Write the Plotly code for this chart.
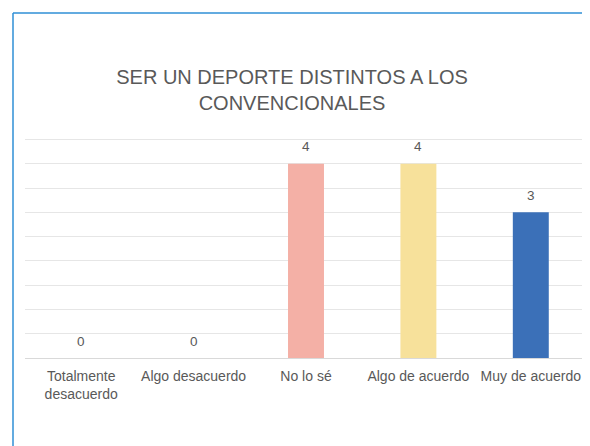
import plotly.graph_objects as go

categories = ["Totalmente<br>desacuerdo", "Algo desacuerdo", "No lo sé", "Algo de acuerdo", "Muy de acuerdo"]
values = [0, 0, 4, 4, 3]
colors = ["#F4B0A6", "#F4B0A6", "#F4B0A6", "#F7E19B", "#3B70B8"]
title_text = "SER UN DEPORTE DISTINTOS A LOS<br>CONVENCIONALES"

FONT = "Liberation Sans, Arial, sans-serif"
GREY = "#595959"

# page body has an 8px margin, so the figure is drawn 8px smaller and shifted
W, H = 582, 438
L, T, B, R = 17, 129, 88, 3
PW = W - L - R
PH = H - T - B

fig = go.Figure()
fig.add_trace(go.Bar(
    x=categories, y=values, marker=dict(color=colors, line=dict(width=0)),
    cliponaxis=False, hoverinfo="x+y",
))

annotations = [dict(x=c, y=v, xref="x", yref="y", text=str(v), showarrow=False,
                    yanchor="middle", yshift=17,
                    font=dict(family=FONT, size=13.5, color=GREY))
               for c, v in zip(categories, values)]

bx = -12 / PW
by = 1 + (T - 5) / PH

fig.update_layout(
    width=W, height=H,
    margin=dict(l=L, r=R, t=T, b=B, pad=0),
    paper_bgcolor="white", plot_bgcolor="white",
    bargap=0.68,
    showlegend=False,
    font=dict(family=FONT, size=14, color=GREY),
    title=dict(text=title_text, x=284 / W, xref="container", xanchor="center",
               y=1 - 76 / H, yref="container", yanchor="middle",
               font=dict(family=FONT, size=20, color=GREY)),
    annotations=annotations,
    xaxis=dict(showgrid=False, showline=True, linecolor="#D9D9D9", linewidth=1,
               ticks="", ticklabelstandoff=5,
               tickfont=dict(family=FONT, size=14, color=GREY)),
    yaxis=dict(range=[0, 4.55], tickvals=[0.5, 1, 1.5, 2, 2.5, 3, 3.5, 4, 4.5],
               showgrid=True, gridcolor="#E6E6E6",
               gridwidth=1, showticklabels=False, zeroline=False, ticks=""),
    shapes=[dict(type="line", xref="paper", yref="paper",
                 x0=bx, x1=bx, y0=-0.5, y1=by,
                 line=dict(color="#2F8FD6", width=1.5)),
            dict(type="line", xref="paper", yref="paper",
                 x0=bx, x1=1.1, y0=by, y1=by,
                 line=dict(color="#2F8FD6", width=1.5))],
)

fig.write_html("out.html")
